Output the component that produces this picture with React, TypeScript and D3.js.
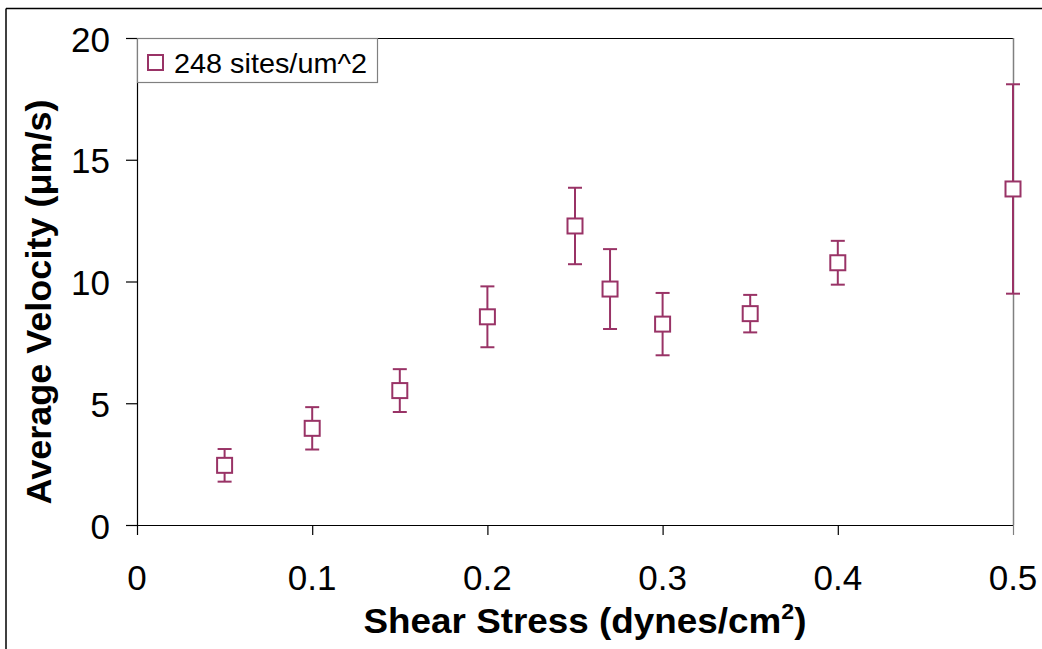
import React from "react";
import * as d3 from "d3";

const shearStress = [0.05, 0.1, 0.15, 0.2, 0.25, 0.27, 0.3, 0.35, 0.4, 0.5];
const avgVelocity = [2.45, 3.97, 5.52, 8.55, 12.28, 9.69, 8.25, 8.68, 10.77, 13.8];
const velocityErr = [0.67, 0.87, 0.88, 1.25, 1.57, 1.64, 1.28, 0.77, 0.9, 4.3];
const xTicks = [0, 0.1, 0.2, 0.3, 0.4, 0.5];
const yTicks = [0, 5, 10, 15, 20];
const seriesName = "248 sites/um^2";

const W = 1042;
const H = 649;
const L = 137, R = 1013, T = 38, B = 525;
const COLOR = "#993366";
const FONT = "'Liberation Sans', Arial, Helvetica, sans-serif";

export default function App() {
  const x = d3.scaleLinear().domain([0, 0.5]).range([L, R]);
  const y = d3.scaleLinear().domain([0, 20]).range([B, T]);
  const fmtX = (v: number) => (v === 0 ? "0" : d3.format(".1f")(v));
  const box = 15;
  const cap = 7;

  return (
    <svg
      width={W}
      height={H}
      style={{ position: "absolute", left: 0, top: 0, background: "#fff" }}
      fontFamily={FONT}
    >
      <rect x={0} y={0} width={W} height={H} fill="#fff" />
      {/* outer chart border */}
      <line x1={6} y1={8.5} x2={W} y2={8.5} stroke="#000" strokeWidth={1.5} />
      <line x1={6} y1={8.5} x2={6} y2={H} stroke="#000" strokeWidth={1.5} />

      {/* plot area border */}
      <line x1={L} y1={T + 0.5} x2={R} y2={T + 0.5} stroke="#000" strokeWidth={1} />
      <line x1={R + 0.5} y1={T} x2={R + 0.5} y2={B} stroke="#808080" strokeWidth={1.5} />

      {/* axes */}
      <line x1={L + 0.5} y1={T} x2={L + 0.5} y2={B} stroke="#000" strokeWidth={1.2} />
      <line x1={L} y1={B + 0.5} x2={R + 1} y2={B + 0.5} stroke="#000" strokeWidth={1.2} />

      {yTicks.map((t) => (
        <g key={"y" + t}>
          <line x1={L - 11} x2={L} y1={y(t) + 0.5} y2={y(t) + 0.5} stroke="#000" strokeWidth={1.2} />
          <text
            x={110}
            y={y(t) + 1}
            textAnchor="end"
            dominantBaseline="central"
            fontSize={35}
            fill="#000"
          >
            {t}
          </text>
        </g>
      ))}
      {xTicks.map((t) => (
        <g key={"x" + t}>
          <line x1={x(t) + 0.5} x2={x(t) + 0.5} y1={B} y2={B + 10} stroke={t === 0.5 ? "#808080" : "#000"} strokeWidth={1.2} />
          <text x={x(t)} y={590} textAnchor="middle" fontSize={35} fill="#000">
            {fmtX(t)}
          </text>
        </g>
      ))}

      {/* error bars and markers */}
      {shearStress.map((s, i) => {
        const cx = x(s);
        const cy = y(avgVelocity[i]);
        const yt = y(avgVelocity[i] + velocityErr[i]);
        const yb = y(avgVelocity[i] - velocityErr[i]);
        return (
          <g key={"p" + i} stroke={COLOR} strokeWidth={2} fill="none">
            <line x1={cx} x2={cx} y1={yt} y2={cy - box / 2} />
            <line x1={cx} x2={cx} y1={cy + box / 2} y2={yb} />
            <line x1={cx - cap} x2={cx + cap} y1={yt} y2={yt} />
            <line x1={cx - cap} x2={cx + cap} y1={yb} y2={yb} />
            <rect x={cx - box / 2} y={cy - box / 2} width={box} height={box} fill="#fff" />
          </g>
        );
      })}

      {/* legend */}
      <rect x={L + 0.5} y={T + 0.5} width={240} height={44} fill="#fff" stroke="#808080" strokeWidth={1.2} />
      <rect x={148} y={55} width={15} height={15} fill="#fff" stroke={COLOR} strokeWidth={2} />
      <text x={174} y={73} fontSize={28} fill="#000" textLength={193} lengthAdjust="spacingAndGlyphs">
        {seriesName}
      </text>

      {/* axis titles */}
      <text
        x={585}
        y={633}
        textAnchor="middle"
        fontSize={35}
        fontWeight="bold"
        fill="#000"
        textLength={443}
        lengthAdjust="spacingAndGlyphs"
      >
        Shear Stress (dynes/cm
        <tspan fontSize={22} dy={-14}>2</tspan>
        <tspan dy={14}>)</tspan>
      </text>
      <text
        transform="translate(51,302) rotate(-90)"
        textAnchor="middle"
        fontSize={35}
        fontWeight="bold"
        fill="#000"
        textLength={405}
        lengthAdjust="spacingAndGlyphs"
      >
        Average Velocity (μm/s)
      </text>
    </svg>
  );
}
